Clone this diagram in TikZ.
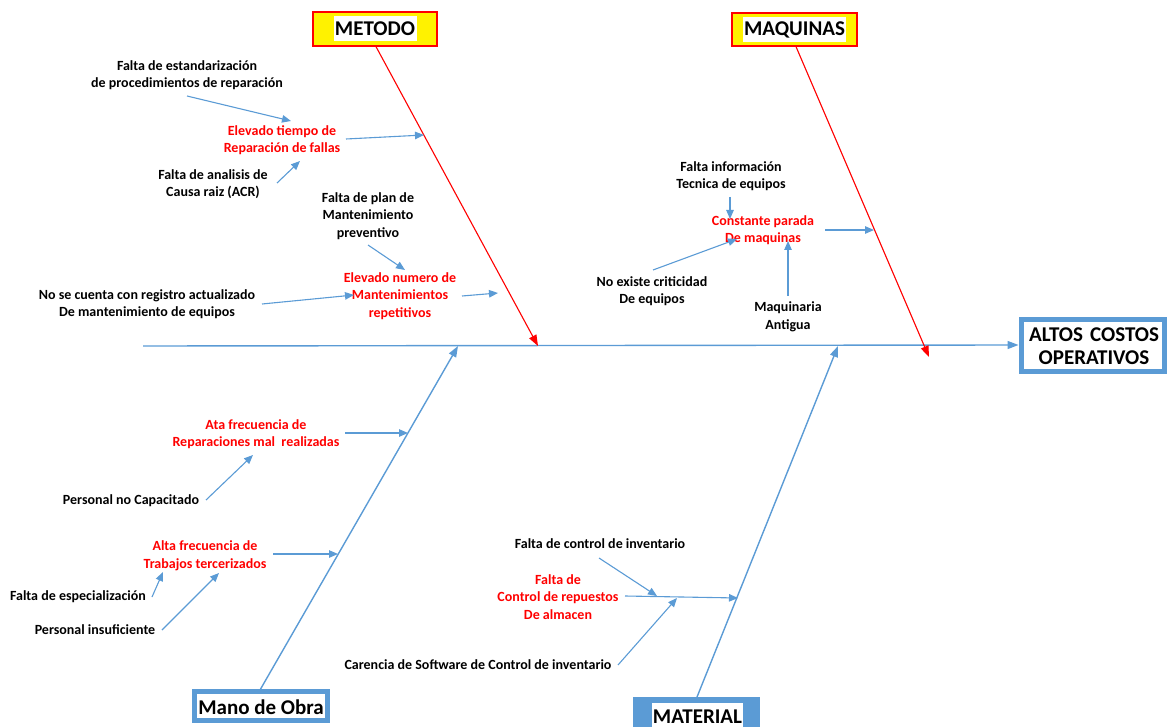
\documentclass[tikz,border=0pt]{standalone}
\usepackage{fontspec}
\setmainfont{Carlito}
\usetikzlibrary{arrows.meta}
\definecolor{mblue}{HTML}{5B9BD5}
\begin{document}
\begin{tikzpicture}[x=1pt,y=-1pt,
  lbl/.style={font=\bfseries\fontsize{14}{17.5}\selectfont, align=center, inner sep=0pt, text=black},
  rlbl/.style={lbl, text=red},
  sub/.style={draw=mblue, line width=1.1pt, -{Triangle[length=9pt,width=7.5pt]}},
  bone/.style={draw=mblue, line width=1.4pt, -{Triangle[length=11pt,width=8pt]}},
  redbone/.style={draw=red, line width=1.1pt, -{Triangle[length=11pt,width=8pt]}},
  ttl/.style={font=\bfseries\fontsize{21}{24}\selectfont, inner sep=0pt, align=center},
  catbox/.style={draw=red, fill=yellow, line width=1.3pt, inner sep=0pt},
  effbox/.style={draw=mblue, fill=white, line width=5pt, inner sep=0pt},
]
\useasboundingbox (0,0) rectangle (1167,727);
\setlength{\fboxsep}{1.5pt}

% --- category and effect boxes
\node[catbox, minimum width=124pt, minimum height=34pt] (metodo) at (375,29) {};
\node[ttl, fill=white, minimum width=83pt, minimum height=25pt] at (metodo) {METODO};
\node[catbox, minimum width=125pt, minimum height=33pt] (maquinas) at (794.5,29.5) {};
\node[ttl, fill=white, minimum width=103pt, minimum height=25pt] at (maquinas) {MAQUINAS};
\node[effbox, minimum width=143pt, minimum height=52pt] (altos) at (1092.5,345) {};
\node[ttl, text width=140pt] at (1094,346) {ALTOS COSTOS\\[-1pt]OPERATIVOS};
\node[effbox, minimum width=133pt, minimum height=29pt] (mano) at (261,706) {};
\node[ttl] at (261,707) {Mano de Obra};
\fill[mblue] (633,697) rectangle (760,727);
\coordinate (material) at (697,697);
\node[ttl, fill=white, minimum width=91pt, minimum height=26pt, anchor=north] (materialtxt) at (697.5,703) {MATERIAL};

% --- spine and main bones
\coordinate (tail) at (143,346);
\draw[bone] (tail) -- (altos.west);
\coordinate (metodoEnd) at (538,346);
\coordinate (maqEnd) at (929,357);
\coordinate (manoEnd) at (458,346);
\coordinate (matEnd) at (838,346);
\draw[redbone] (metodo.south) ++(1,0) -- (metodoEnd);
\draw[redbone] (maquinas.south) ++(1.5,0) -- (maqEnd);
\draw[bone] (260,690) -- (manoEnd);
\draw[bone] (material) -- (matEnd);

% --- METODO
\node[lbl] (m1) at (187,75) {Falta de estandarización\\de procedimientos de reparación};
\node[rlbl] (m1r) at (282,140) {Elevado tiempo de\\Reparación de fallas};
\node[lbl] (m2) at (213,184) {Falta de analisis de\\Causa raiz (ACR)};
\node[lbl] (m3) at (368,216) {Falta de plan de\\Mantenimiento\\preventivo};
\node[rlbl] (m3r) at (400,296) {Elevado numero de\\Mantenimientos\\repetitivos};
\node[lbl] (m4) at (147,304) {No se cuenta con registro actualizado\\De mantenimiento de equipos};
\coordinate (a1s) at (187,96);  \coordinate (a1e) at (291,121);
\coordinate (a2s) at (346,139); \coordinate (a2e) at (424,135);
\coordinate (a3s) at (277,183); \coordinate (a3e) at (300,161);
\coordinate (a4s) at (368,245); \coordinate (a4e) at (405,270);
\coordinate (a5s) at (462,296); \coordinate (a5e) at (498,293);
\coordinate (a6s) at (262,304); \coordinate (a6e) at (354,295);
\draw[sub] (a1s) -- (a1e);
\draw[sub] (a2s) -- (a2e);
\draw[sub] (a3s) -- (a3e);
\draw[sub] (a4s) -- (a4e);
\draw[sub] (a5s) -- (a5e);
\draw[sub] (a6s) -- (a6e);

% --- MAQUINAS
\node[lbl] (q1) at (731,176) {Falta información\\Tecnica de equipos};
\node[rlbl] (qr) at (763,230) {Constante parada\\De maquinas};
\node[lbl] (q2) at (652,291) {No existe criticidad\\De equipos};
\node[lbl] (q3) at (788,317) {Maquinaria\\Antigua};
\coordinate (b1s) at (730,197); \coordinate (b1e) at (730,219);
\coordinate (b2s) at (825,230); \coordinate (b2e) at (874,230);
\coordinate (b3s) at (653,270); \coordinate (b3e) at (737,239);
\coordinate (b4s) at (788,296); \coordinate (b4e) at (788,241);
\draw[sub] (b1s) -- (b1e);
\draw[sub] (b2s) -- (b2e);
\draw[sub] (b3s) -- (b3e);
\draw[sub] (b4s) -- (b4e);

% --- MANO DE OBRA
\node[rlbl] (o1r) at (256,434) {Ata frecuencia de\\Reparaciones mal\ \ realizadas};
\node[lbl] (o1) at (131,501) {Personal no Capacitado};
\node[rlbl] (o2r) at (205,556) {Alta frecuencia de\\Trabajos tercerizados};
\node[lbl] (o2) at (78,597) {Falta de especialización};
\node[lbl] (o3) at (95,630) {Personal insuficiente};
\coordinate (c1s) at (345,433); \coordinate (c1e) at (408,433);
\coordinate (c2s) at (206,500); \coordinate (c2e) at (253,455);
\coordinate (c3s) at (273,554); \coordinate (c3e) at (338,554);
\coordinate (c4s) at (152,597); \coordinate (c4e) at (163,572);
\coordinate (c5s) at (162,630); \coordinate (c5e) at (219,573);
\draw[sub] (c1s) -- (c1e);
\draw[sub] (c2s) -- (c2e);
\draw[sub] (c3s) -- (c3e);
\draw[sub] (c4s) -- (c4e);
\draw[sub] (c5s) -- (c5e);

% --- MATERIAL
\node[lbl] (t1) at (600,544) {Falta de control de inventario};
\node[rlbl] (tr) at (558,597) {Falta de\\Control de repuestos\\De almacen};
\node[lbl] (t2) at (478,665) {Carencia de Software de Control de inventario};
\coordinate (d1s) at (599,558); \coordinate (d1e) at (657,596);
\coordinate (d2s) at (625,596); \coordinate (d2e) at (738,598);
\coordinate (d3s) at (618,665); \coordinate (d3e) at (677,598);
\draw[sub] (d1s) -- (d1e);
\draw[sub] (d2s) -- (d2e);
\draw[sub] (d3s) -- (d3e);
\end{tikzpicture}
\end{document}
